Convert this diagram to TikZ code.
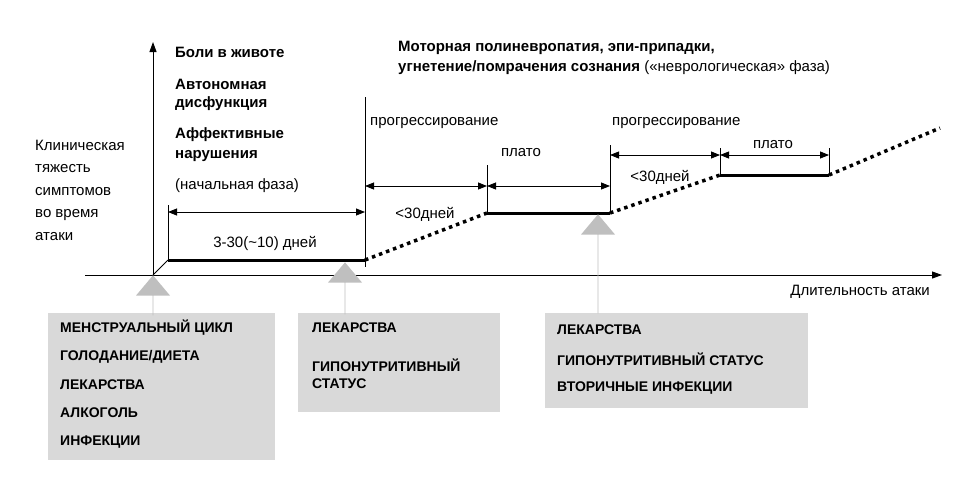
\documentclass[tikz,border=0pt]{standalone}
\usepackage{fontspec}
\setmainfont{Liberation Sans}
\usetikzlibrary{arrows.meta,shapes.arrows}
\begin{document}
\begin{tikzpicture}[x=1pt,y=-1pt,
 txt/.style={anchor=west,inner sep=0pt,font=\fontsize{15}{17}\selectfont},
 btxt/.style={txt,font=\fontsize{15}{17}\selectfont\bfseries},
 box/.style={fill=black!15,draw=none},
 boxt/.style={anchor=west,inner sep=0pt,font=\fontsize{14}{16}\selectfont\bfseries},
 dim/.style={{Triangle[length=9pt,width=7pt]}-{Triangle[length=9pt,width=7pt]},line width=0.8pt},
 thick line/.style={line width=3pt},
 dots/.style={line width=3.5pt,dash pattern=on 3.5pt off 4pt},
 up/.style={single arrow,shape border rotate=90,fill=black!25,draw=none,minimum width=34pt,single arrow head extend=9pt,single arrow tip angle=80,inner sep=0pt,anchor=tip}]
\useasboundingbox (0,0) rectangle (973,477);
% axes
\coordinate (o) at (153,275);
\coordinate (ytop) at (153,42);
\coordinate (xl) at (85,275);
\coordinate (xr) at (942,275);
\draw[line width=1pt,-{Triangle[length=10pt,width=7pt]}] (o) -- (ytop);
\draw[line width=1pt,-{Triangle[length=10pt,width=7pt]}] (xl) -- (xr);
% points
\coordinate (a0) at (168,260); \coordinate (a1) at (365,260);
\coordinate (b0) at (487,213); \coordinate (b1) at (610,213);
\coordinate (c0) at (720,175); \coordinate (c1) at (829,175);
\coordinate (e) at (940,128);
\draw[line width=0.8pt] (o) -- (a0);
\draw[thick line] (a0) -- (a1);
\draw[thick line] (b0) -- (b1);
\draw[thick line] (c0) -- (c1);
\draw[dots] (a1) -- (b0);
\draw[dots] (b1) -- (c0);
\draw[dots] (c1) -- (e);
% verticals
\draw[line width=0.8pt] (168,205) -- (a0);
\draw[line width=0.8pt] (365,97) -- (365,267);
\draw[line width=0.8pt] (487,165) -- (b0);
\draw[line width=0.8pt] (610,145) -- (b1);
\draw[line width=0.8pt] (720,148) -- (c0);
\draw[line width=0.8pt] (829,148) -- (c1);
% dimension arrows
\coordinate (d1a) at (168,212); \coordinate (d1b) at (365,212);
\coordinate (d2a) at (365,186); \coordinate (d2b) at (487,186);
\coordinate (d3a) at (487,186); \coordinate (d3b) at (610,186);
\coordinate (d4a) at (610,155); \coordinate (d4b) at (720,155);
\coordinate (d5a) at (720,155); \coordinate (d5b) at (829,155);
\draw[dim] (d1a) -- (d1b);
\draw[dim] (d2a) -- (d2b);
\draw[dim] (d3a) -- (d3b);
\draw[dim] (d4a) -- (d4b);
\draw[dim] (d5a) -- (d5b);
% labels
\node[txt,anchor=center] (l1) at (265,243) {3-30(\textasciitilde10) дней};
\node[txt,anchor=center] (l2) at (425,214) {<30дней};
\node[txt,anchor=center] (l3) at (521,153) {плато};
\node[txt,anchor=center] (l4) at (660,177) {<30дней};
\node[txt,anchor=center] (l5) at (773,145) {плато};
\node[txt] (p1) at (370,123) {прогрессирование};
\node[txt] (p2) at (612,123) {прогрессирование};
\node[txt] (nf) at (175,186) {(начальная фаза)};
\node[btxt] (t1) at (175,52) {Боли в животе};
\node[btxt] (t2) at (175,84) {Автономная};
\node[btxt] (t3) at (175,104) {дисфункция};
\node[btxt] (t4) at (175,135) {Аффективные};
\node[btxt] (t5) at (175,156) {нарушения};
\node[btxt] (m1) at (398,48) {Моторная полиневропатия, эпи-припадки,};
\node[txt] (m2) at (398,68) {\textbf{угнетение/помрачения сознания} («неврологическая» фаза)};
\node[txt,anchor=east] (xlab) at (930,292) {Длительность атаки};
\node[txt,align=left,font=\fontsize{15}{22.5}\selectfont] (ylab) at (35,190) {Клиническая\\тяжесть\\симптомов\\во время\\атаки};
% boxes
\fill[box] (48,313) rectangle (275,460);
\fill[box] (298,313) rectangle (500,412);
\fill[box] (545,313) rectangle (808,408);
\node[up,minimum height=40pt] (u1) at (153,275) {};
\node[up,minimum height=52pt] (u2) at (345,262) {};
\node[up,minimum height=99pt] (u3) at (598,214) {};
\node[boxt] at (60,328) {МЕНСТРУАЛЬНЫЙ ЦИКЛ};
\node[boxt] at (60,357) {ГОЛОДАНИЕ/ДИЕТА};
\node[boxt] at (60,385) {ЛЕКАРСТВА};
\node[boxt] at (60,413) {АЛКОГОЛЬ};
\node[boxt] at (60,442) {ИНФЕКЦИИ};
\node[boxt] at (312,328) {ЛЕКАРСТВА};
\node[boxt] at (312,365) {ГИПОНУТРИТИВНЫЙ};
\node[boxt] at (312,384) {СТАТУС};
\node[boxt] at (557,330) {ЛЕКАРСТВА};
\node[boxt] at (557,359) {ГИПОНУТРИТИВНЫЙ СТАТУС};
\node[boxt] at (557,388) {ВТОРИЧНЫЕ ИНФЕКЦИИ};
\end{tikzpicture}
\end{document}
